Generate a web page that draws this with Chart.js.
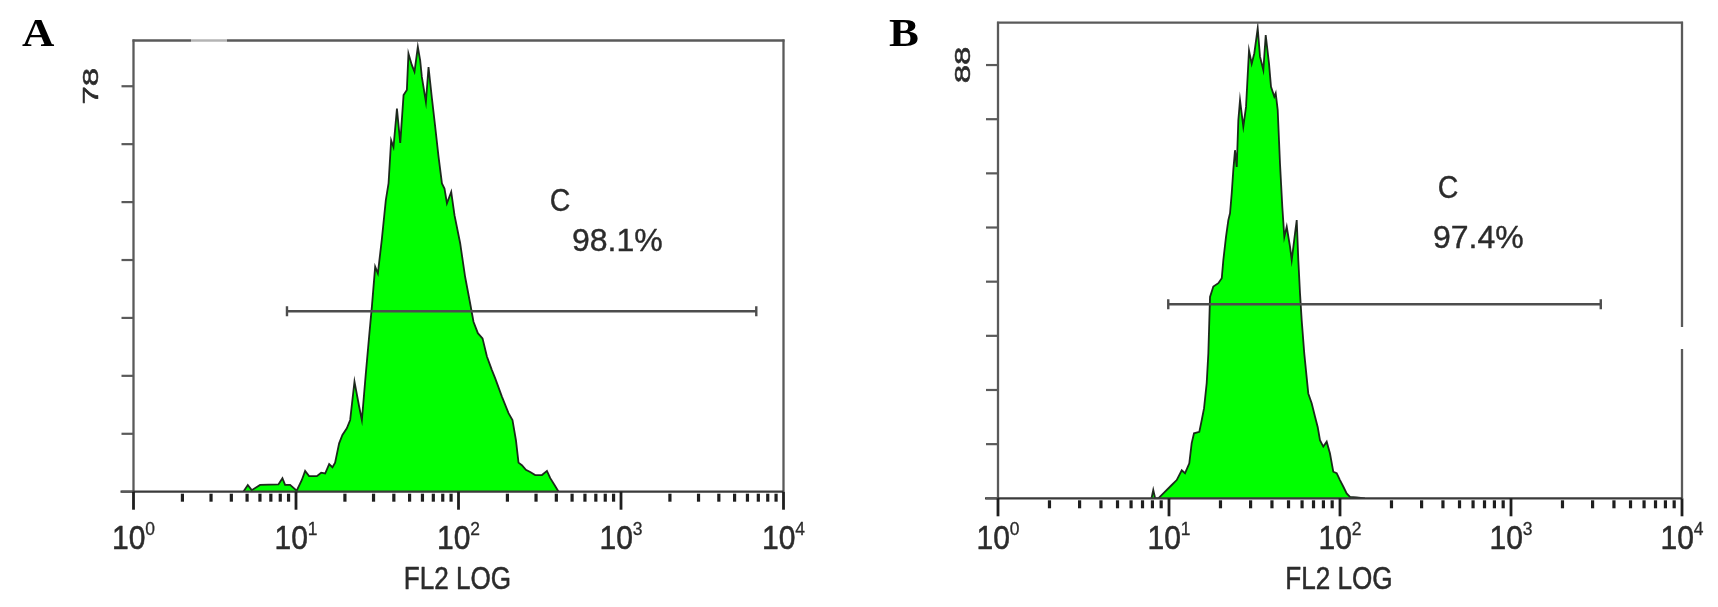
<!DOCTYPE html>
<html><head><meta charset="utf-8">
<script src="https://cdn.jsdelivr.net/npm/chart.js@4.4.1/dist/chart.umd.min.js"></script>
<style>
html,body{margin:0;padding:0;background:#fff;width:1718px;height:607px;overflow:hidden}
canvas{position:absolute;top:0}
#ca{left:0}
#cb{left:860px}
</style></head><body>
<canvas id="ca" width="860" height="607"></canvas>
<canvas id="cb" width="858" height="607"></canvas>
<script>
// ---------- data ----------
const xAxisTitle = 'FL2 LOG';
const decadeValues = [1, 10, 100, 1000, 10000];
const decadeExponents = ['0', '1', '2', '3', '4'];
const minorSteps = [2, 3, 4, 5, 6, 7, 8, 9];

// Panel A histogram (FL2 channel value, event count)
const aChannel = [4.74, 5.05, 5.34, 6.01, 7.79, 8.25, 8.57, 9.20, 10.1, 10.86, 11.38, 12.04, 13.43, 14.28, 15.11, 16.0, 16.76, 17.4, 18.42, 19.3, 20.54, 21.54, 22.9, 24.5, 25.43, 26.9, 28.3, 29.3, 30.7, 31.9, 33.7, 35.7, 37.1, 38.5, 39.8, 41.8, 43.8, 45.9, 48.1, 49.2, 51.6, 53.6, 56.2, 58.1, 59.5, 63.0, 65.4, 68.6, 71.9, 75.4, 79.1, 82.0, 84.9, 90.2, 94.5, 102.4, 109.9, 118.0, 123.7, 131.6, 140.6, 149.6, 160.6, 168.3, 185.0, 203.2, 214.9, 225.7, 234.1, 245.6, 260.0, 276.3, 296.5, 326.3, 350.2, 367.1, 390.0, 413.0];
const aCount   = [0, 1.3, 0.3, 1.3, 1.4, 2.6, 1.3, 1.3, 0.2, 2.25, 4.0, 3.0, 3.0, 3.65, 3.5, 5.3, 4.7, 5.6, 9.3, 10.9, 12.2, 13.8, 21.2, 16.3, 13.8, 22.8, 30.5, 35.6, 43.3, 42.0, 48.4, 56.1, 59.3, 67.6, 66.3, 73.7, 67.1, 76.3, 77.3, 84.3, 82.1, 80.8, 85.6, 83.0, 79.8, 75.0, 81.7, 75.7, 70.2, 64.4, 59.3, 58.3, 55.5, 57.7, 53.2, 47.8, 41.3, 36.2, 32.7, 30.5, 29.5, 26.0, 23.4, 21.8, 18.3, 15.1, 13.8, 9.9, 5.6, 5.1, 4.2, 3.8, 3.2, 3.2, 4.0, 2.6, 1.3, 0];
const aYTicks = [0, 11.14, 22.29, 33.43, 44.57, 55.71, 66.86, 78];
const aYLabel = '78';
const aYMax = 86.8;
const aGate = [8.8, 6800];
const aGateLevel = 34.7;
const aGateName = 'C';
const aGatePct = '98.1%';

// Panel B histogram
const bChannel = [7.9, 8.09, 8.3, 8.66, 9.48, 10.37, 11.09, 11.87, 12.41, 13.14, 13.57, 14.00, 15.04, 15.54, 16.03, 16.61, 16.98, 17.21, 17.37, 18.16, 19.43, 20.34, 20.78, 21.54, 22.23, 22.74, 23.26, 23.77, 24.32, 24.89, 25.43, 26.02, 27.20, 28.21, 29.37, 30.45, 31.54, 33.02, 34.06, 35.61, 36.78, 38.45, 39.50, 41.29, 42.07, 43.22, 44.58, 45.99, 47.25, 48.80, 51.02, 52.20, 54.57, 55.84, 57.05, 58.38, 59.70, 61.83, 65.25, 68.31, 71.41, 74.06, 76.38, 79.86, 83.60, 87.40, 91.37, 95.65, 100.0, 104.5, 109.4, 114.4, 125.2, 140.0];
const bCount   = [0, 1.7, 0, 0, 1.34, 2.7, 3.7, 5.7, 5.1, 7.1, 11.2, 13.2, 13.5, 15.9, 18.3, 23.4, 29.4, 36.2, 40.9, 43.0, 43.7, 44.7, 48.4, 53.1, 56.5, 57.9, 61.9, 66.7, 70.7, 67.3, 76.8, 80.9, 75.5, 79.5, 91.0, 88.3, 90.4, 95.5, 89.7, 87.0, 94.1, 88.3, 83.6, 81.6, 82.3, 78.9, 68.0, 59.2, 53.1, 55.2, 51.1, 48.4, 53.8, 56.5, 48.4, 41.6, 36.2, 29.4, 21.3, 19.3, 16.6, 14.5, 11.8, 10.5, 11.5, 9.1, 5.4, 5.1, 3.7, 2.4, 1.0, 0.3, 0.2, 0];
const bYTicks = [0, 11, 22, 33, 44, 55, 66, 77, 88];
const bYLabel = '88';
const bYMax = 96.6;
const bGate = [9.9, 3350];
const bGateLevel = 39.4;
const bGateName = 'C';
const bGatePct = '97.4%';

// ---------- drawing ----------
const SANS = '"Liberation Sans", Arial, "DejaVu Sans", sans-serif';
const SERIF = '"Liberation Serif", "Times New Roman", serif';
const INK = '#2b2b2b';

function txt(ctx, s, x, y, size, o) {
  o = o || {};
  ctx.save();
  ctx.translate(x, y);
  if (o.rot) ctx.rotate(o.rot);
  ctx.scale(o.sx || 1, o.sy || 1);
  ctx.font = (o.weight || 'normal') + ' ' + size + 'px ' + (o.family || SANS);
  ctx.fillStyle = o.color || INK;
  ctx.textAlign = o.align || 'left';
  ctx.textBaseline = o.baseline || 'alphabetic';
  ctx.fillText(s, 0, 0);
  if (o.stroke) {
    ctx.strokeStyle = o.color || INK;
    ctx.lineWidth = o.stroke;
    ctx.lineJoin = 'round';
    ctx.strokeText(s, 0, 0);
  }
  ctx.restore();
}
function seg(ctx, x1, y1, x2, y2, w, c) {
  ctx.save();
  ctx.strokeStyle = c; ctx.lineWidth = w; ctx.lineCap = 'butt';
  ctx.beginPath(); ctx.moveTo(x1, y1); ctx.lineTo(x2, y2); ctx.stroke();
  ctx.restore();
}

function decorPlugin(p) {
  return {
    id: 'decor',
    afterDraw(chart) {
      const ctx = chart.ctx, ca = chart.chartArea;
      const xs = chart.scales.x, ys = chart.scales.y;
      const y0 = ys.getPixelForValue(0);
      const FR = '#5a5a5a';
      // frame (left, top, right)
      seg(ctx, ca.left, y0 + 1, ca.left, ca.top - 1, 2.3, FR);
      seg(ctx, ca.left - 1, ca.top, ca.right + 1, ca.top, 2.3, FR);
      seg(ctx, ca.right, ca.top - 1, ca.right, y0, 2.3, FR);
      // faint breaks in the frame, as in the scan
      if (p.gap) {
        ctx.save(); ctx.fillStyle = p.gap[4];
        ctx.fillRect(p.gap[0], p.gap[1], p.gap[2], p.gap[3]);
        ctx.restore();
      }
      // baseline
      seg(ctx, ca.left - 13, y0, ca.right, y0, 2.3, '#3a3a3a');
      // y ticks
      p.yTicks.forEach(v => {
        const py = ys.getPixelForValue(v);
        seg(ctx, ca.left - 12, py, ca.left, py, 2.2, FR);
      });
      // x ticks
      decadeValues.forEach((d, i) => {
        const px = xs.getPixelForValue(d);
        seg(ctx, px, y0, px, y0 + 18, 2.8, '#1e1e1e');
        if (i < decadeValues.length - 1) {
          minorSteps.forEach(k => {
            const mx = xs.getPixelForValue(k * d);
            seg(ctx, mx, y0 + 2, mx, y0 + 10, 3.2, '#1e1e1e');
          });
        }
      });
      // x tick labels 10^n
      const TF = 31, SF = 18, TSX = 0.97, TSY = 1.05;
      decadeValues.forEach((d, i) => {
        const px = xs.getPixelForValue(d);
        ctx.save();
        ctx.font = 'normal ' + TF + 'px ' + SANS;
        const w10 = ctx.measureText('10').width * TSX;
        ctx.font = 'normal ' + SF + 'px ' + SANS;
        const wsup = ctx.measureText(decadeExponents[i]).width * TSX;
        ctx.restore();
        const left = px - (w10 + wsup) / 2;
        txt(ctx, '10', left, p.labelY, TF, {sx: TSX, sy: TSY, stroke: 0.5});
        txt(ctx, decadeExponents[i], left + w10, p.labelY - 14, SF, {sx: TSX, sy: TSY, stroke: 0.3});
      });
      // axis title
      txt(ctx, xAxisTitle, xs.getPixelForValue(100) - 1, p.titleY, 30, {align: 'center', sx: 0.87, sy: 1.05, stroke: 0.5});
      // y label (rotated)
      txt(ctx, p.yLabel, p.yLabelX, ys.getPixelForValue(p.yTicks[p.yTicks.length - 1]), 27,
          {rot: -Math.PI / 2, align: 'center', baseline: 'middle', sx: 1.22, sy: 0.8, stroke: 0.6});
      // gate annotation
      txt(ctx, p.gateName, p.cX, p.cY, 31, {align: 'center', sx: 0.92, sy: 1.0, stroke: 0.4});
      txt(ctx, p.gatePct, p.pctX, p.pctY, 32, {align: 'left', sx: 1.0, sy: 1.0, stroke: 0.4});
      // panel letter
      txt(ctx, p.letter, p.letterX, p.letterY, 40, {weight: 'bold', family: SERIF, sx: 1.12, sy: 1.0, color: '#000'});
    }
  };
}

function build(id, ch, cnt, gate, gateLevel, ymax, pad, p) {
  const hist = ch.map((v, i) => ({x: v, y: cnt[i]}));
  const gateData = gate.map(v => ({x: v, y: gateLevel}));
  new Chart(document.getElementById(id), {
    type: 'line',
    data: {
      datasets: [
        {data: gateData, borderColor: '#4d4d4d', borderWidth: 2.5, fill: false,
         pointStyle: 'line', pointRotation: 90, pointRadius: 5, pointBorderWidth: 2.4,
         pointBorderColor: '#4d4d4d', pointHoverRadius: 0},
        {data: hist, borderColor: 'rgba(20,24,20,0.92)', borderWidth: 1.8, fill: 'origin',
         backgroundColor: '#00ff00', pointRadius: 0, tension: 0}
      ]
    },
    options: {
      responsive: false, animation: false,
      layout: {padding: pad},
      plugins: {legend: {display: false}, tooltip: {enabled: false}},
      scales: {
        x: {type: 'logarithmic', min: 1, max: 10000, display: false},
        y: {type: 'linear', min: 0, max: ymax, display: false}
      }
    },
    plugins: [decorPlugin(p)]
  });
}

build('ca', aChannel, aCount, aGate, aGateLevel, aYMax,
  {left: 133.5, top: 40.5, right: 76.5, bottom: 115.3},
  {yTicks: aYTicks, yLabel: aYLabel, yLabelX: 92, labelY: 549, titleY: 589,
   gateName: aGateName, gatePct: aGatePct, cX: 560, cY: 211, pctX: 572, pctY: 251,
   letter: 'A', letterX: 22, letterY: 46, gap: [191, 38, 36, 5, 'rgba(255,255,255,0.55)']});
build('cb', bChannel, bCount, bGate, bGateLevel, bYMax,
  {left: 138, top: 22.7, right: 36, bottom: 108.7},
  {yTicks: bYTicks, yLabel: bYLabel, yLabelX: 104, labelY: 549, titleY: 589,
   gateName: bGateName, gatePct: bGatePct, cX: 588, cY: 198, pctX: 573, pctY: 248,
   letter: 'B', letterX: 29, letterY: 46, gap: [818, 327, 6, 22, '#fff']});
</script>
</body></html>
